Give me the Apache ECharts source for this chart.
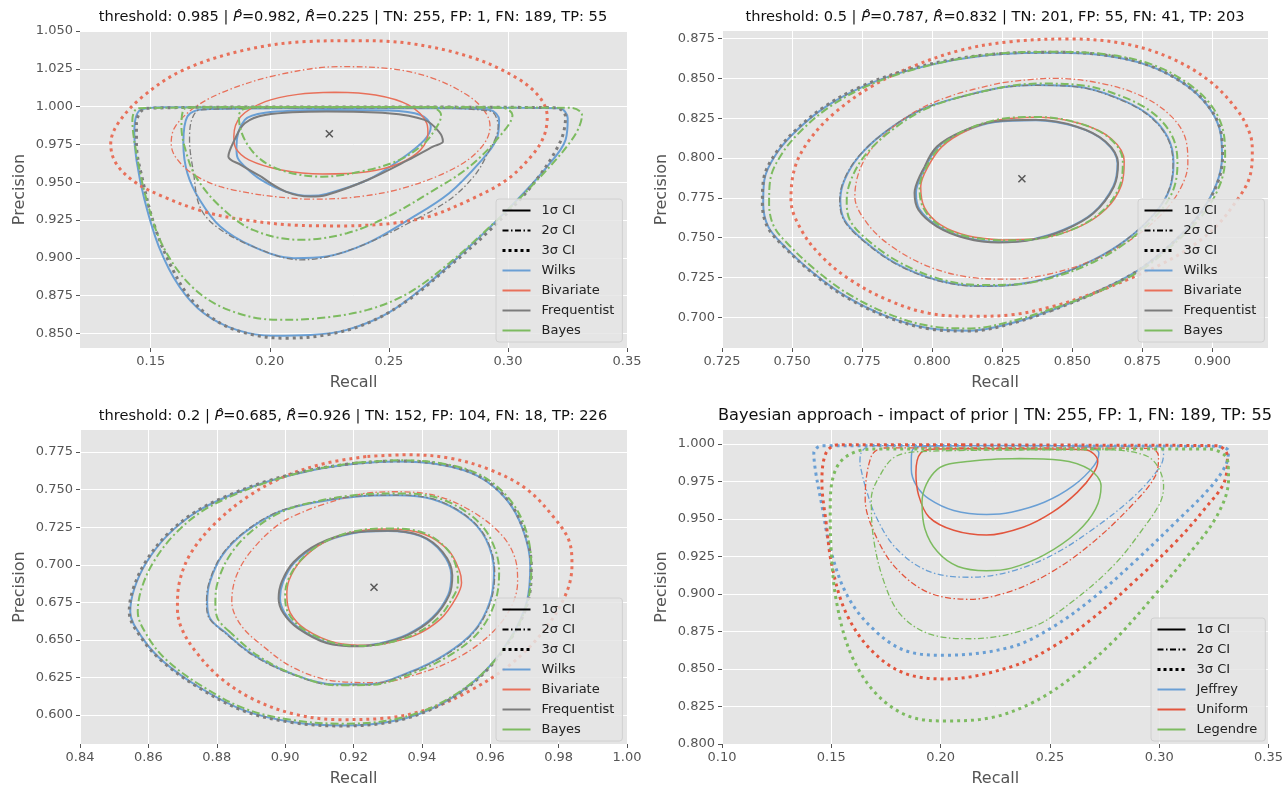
<!DOCTYPE html>
<html>
<head>
<meta charset="utf-8">
<script src="https://cdn.jsdelivr.net/npm/echarts@6/dist/echarts.min.js"></script>
<style>
  html, body { margin: 0; padding: 0; background: #fff; }
  #main { width: 1286px; height: 788px; }
</style>
</head>
<body>
<div id="main"></div>
<script>
// tick values of each panel
const p1XTicks = [0.15, 0.20, 0.25, 0.30, 0.35];
const p1YTicks = [0.850, 0.875, 0.900, 0.925, 0.950, 0.975, 1.000, 1.025, 1.050];
const p2XTicks = [0.725, 0.750, 0.775, 0.800, 0.825, 0.850, 0.875, 0.900];
const p2YTicks = [0.700, 0.725, 0.750, 0.775, 0.800, 0.825, 0.850, 0.875];
const p3XTicks = [0.84, 0.86, 0.88, 0.90, 0.92, 0.94, 0.96, 0.98, 1.00];
const p3YTicks = [0.600, 0.625, 0.650, 0.675, 0.700, 0.725, 0.750, 0.775];
const p4XTicks = [0.10, 0.15, 0.20, 0.25, 0.30, 0.35];
const p4YTicks = [0.800, 0.825, 0.850, 0.875, 0.900, 0.925, 0.950, 0.975, 1.000];

// ---- panel 1: threshold 0.985 ----
const p1Mark = [[0.225, 0.982]];
const p1Wilks1 = [[0.186,0.9736],[0.1895,0.9912],[0.198,0.996],[0.2238,0.9978],[0.2496,0.9974],[0.2633,0.9945],[0.2676,0.9868],[0.265,0.978],[0.2547,0.9648],[0.241,0.9515],[0.2238,0.9423],[0.217,0.941],[0.2067,0.9438],[0.1964,0.9515],[0.1895,0.9604],[0.1863,0.967],[0.186,0.9736]];
const p1Wilks2 = [[0.1637,0.9758],[0.1654,0.9934],[0.1723,0.9982],[0.2067,0.9989],[0.25,0.9989],[0.2753,0.9989],[0.2925,0.9978],[0.2963,0.9912],[0.2951,0.978],[0.2891,0.9648],[0.2753,0.9427],[0.2582,0.9251],[0.241,0.9097],[0.2238,0.9009],[0.2101,0.8998],[0.1929,0.9075],[0.1792,0.9207],[0.1706,0.9383],[0.1654,0.956],[0.1637,0.9758]];
const p1Wilks3 = [[0.1431,0.9824],[0.1457,0.9978],[0.1552,0.9996],[0.20,0.9995],[0.25,0.9994],[0.30,0.9992],[0.3217,0.9989],[0.3251,0.9923],[0.3242,0.978],[0.3165,0.9604],[0.3011,0.9339],[0.2839,0.9075],[0.2667,0.8833],[0.2496,0.8634],[0.2324,0.8524],[0.217,0.849],[0.2015,0.8485],[0.1861,0.8524],[0.1723,0.8634],[0.162,0.8811],[0.1534,0.9075],[0.1474,0.9383],[0.144,0.9648],[0.1431,0.9824]];
const p1Biv1 = [[0.1849,0.9802],[0.1878,0.9934],[0.1981,1.0033],[0.2118,1.0081],[0.2273,1.0095],[0.2444,1.0077],[0.2582,1.0011],[0.2659,0.989],[0.2664,0.9824],[0.2633,0.9714],[0.2547,0.9626],[0.241,0.957],[0.2221,0.9555],[0.2049,0.9581],[0.1912,0.9648],[0.1857,0.9725],[0.1849,0.9802]];
const p1Biv2 = [[0.1586,0.9758],[0.1603,0.9868],[0.1689,1.0],[0.1826,1.011],[0.2032,1.0209],[0.229,1.0264],[0.2496,1.0253],[0.2685,1.0187],[0.2839,1.0066],[0.2908,0.9956],[0.2925,0.9868],[0.2891,0.9736],[0.2788,0.9604],[0.2582,0.9471],[0.2376,0.9405],[0.217,0.9388],[0.1964,0.9416],[0.1792,0.9471],[0.1672,0.956],[0.1603,0.967],[0.1586,0.9758]];
const p1Biv3 = [[0.1332,0.9753],[0.1363,0.989],[0.1466,1.0066],[0.1637,1.0242],[0.1895,1.0374],[0.2152,1.043],[0.2358,1.0436],[0.2582,1.0419],[0.2839,1.033],[0.3028,1.0198],[0.3131,1.0066],[0.3165,0.9934],[0.315,0.98],[0.3097,0.967],[0.2994,0.9515],[0.2839,0.9383],[0.2667,0.9273],[0.2496,0.9225],[0.2324,0.9211],[0.2135,0.9214],[0.1895,0.9251],[0.1723,0.9306],[0.1552,0.9405],[0.1431,0.9504],[0.1354,0.9626],[0.1332,0.9753]];
const p1Freq1 = [[0.1826,0.967],[0.1852,0.978],[0.1895,0.989],[0.198,0.9945],[0.2238,0.9967],[0.2496,0.9956],[0.265,0.9912],[0.271,0.9835],[0.2727,0.9769],[0.2685,0.9736],[0.2582,0.9648],[0.241,0.9515],[0.2238,0.9416],[0.217,0.9405],[0.2067,0.9438],[0.1964,0.9537],[0.1878,0.9615],[0.1826,0.967]];
const p1Freq2 = [[0.1663,0.978],[0.1672,0.9912],[0.1706,0.9978],[0.21,0.9992],[0.26,0.9992],[0.2925,0.997],[0.2959,0.9868],[0.2908,0.967],[0.2856,0.9537],[0.2753,0.9383],[0.2582,0.9229],[0.241,0.9097],[0.225,0.901],[0.2127,0.8987],[0.1929,0.9075],[0.1775,0.9207],[0.1706,0.9339],[0.168,0.956],[0.1663,0.978]];
const p1Freq3 = [[0.144,0.989],[0.1483,0.9989],[0.20,0.9997],[0.26,0.9997],[0.32,0.9993],[0.3242,0.9934],[0.3217,0.9758],[0.3097,0.9471],[0.2925,0.9185],[0.2753,0.8943],[0.2582,0.8722],[0.241,0.8568],[0.2238,0.8491],[0.2067,0.8469],[0.1929,0.8491],[0.1792,0.8568],[0.1672,0.8722],[0.1586,0.8943],[0.1517,0.9207],[0.1466,0.9515],[0.144,0.9758],[0.144,0.989]];
const p1Bayes1 = [[0.187,0.9934],[0.1885,0.998],[0.196,0.9996],[0.23,0.9997],[0.265,0.9996],[0.2693,0.9989],[0.2719,0.9945],[0.271,0.989],[0.265,0.976],[0.2547,0.965],[0.241,0.958],[0.222,0.9537],[0.2067,0.957],[0.1964,0.9648],[0.1895,0.978],[0.187,0.9934]];
const p1Bayes2 = [[0.1629,0.9868],[0.1637,0.9978],[0.1672,0.9996],[0.20,0.9997],[0.25,0.9997],[0.2976,0.9992],[0.3019,0.9945],[0.2976,0.9824],[0.2839,0.9604],[0.2667,0.9427],[0.2496,0.9273],[0.2324,0.9163],[0.2127,0.9119],[0.1929,0.9185],[0.1792,0.9339],[0.1689,0.9537],[0.1646,0.9714],[0.1629,0.9868]];
const p1Bayes3 = [[0.1423,0.9912],[0.1449,0.9989],[0.20,0.9996],[0.26,0.9996],[0.3268,0.9992],[0.3311,0.9945],[0.3268,0.978],[0.3097,0.9471],[0.2925,0.9207],[0.2753,0.8965],[0.2582,0.8767],[0.241,0.8656],[0.22,0.86],[0.2032,0.859],[0.1826,0.8656],[0.1672,0.8811],[0.1552,0.9075],[0.1483,0.9383],[0.144,0.9692],[0.1423,0.9912]];

// ---- panel 2: threshold 0.5 ----
const p2Mark = [[0.832, 0.787]];
const p2Freq1 = [[0.7937,0.778],[0.7973,0.7946],[0.8017,0.8072],[0.8105,0.8166],[0.8223,0.8229],[0.837,0.824],[0.8516,0.8197],[0.8619,0.8103],[0.8663,0.7967],[0.8648,0.782],[0.8575,0.7653],[0.8472,0.7548],[0.8355,0.7486],[0.8237,0.7469],[0.812,0.7496],[0.8017,0.757],[0.7951,0.7674],[0.7937,0.778]];
const p2Wilks1 = [[0.7942,0.7782],[0.7977,0.7946],[0.8021,0.807],[0.8108,0.8164],[0.8225,0.8227],[0.837,0.8238],[0.8515,0.8196],[0.8617,0.8103],[0.8661,0.7968],[0.8646,0.7822],[0.8574,0.7655],[0.8471,0.7551],[0.8355,0.7489],[0.8238,0.7472],[0.8122,0.7499],[0.802,0.7573],[0.7955,0.7676],[0.7942,0.7782]];
const p2Biv1 = [[0.7959,0.7821],[0.7985,0.7946],[0.8035,0.8072],[0.812,0.817],[0.824,0.824],[0.838,0.8256],[0.853,0.8215],[0.864,0.812],[0.8685,0.798],[0.8675,0.783],[0.862,0.768],[0.852,0.7565],[0.838,0.7495],[0.825,0.7486],[0.813,0.751],[0.803,0.758],[0.7972,0.769],[0.7959,0.7821]];
const p2Bayes1 = [[0.7955,0.7815],[0.798,0.7946],[0.803,0.8075],[0.8115,0.8172],[0.8235,0.8242],[0.8375,0.8258],[0.8525,0.8218],[0.8635,0.8122],[0.868,0.7982],[0.867,0.783],[0.8615,0.768],[0.8515,0.7563],[0.8375,0.7492],[0.8245,0.7482],[0.8125,0.7507],[0.8025,0.7578],[0.7968,0.7688],[0.7955,0.7815]];
const p2Wilks2 = [[0.7672,0.7737],[0.7687,0.7862],[0.7738,0.8009],[0.7826,0.8155],[0.7958,0.8302],[0.8105,0.8386],[0.8252,0.8444],[0.837,0.8459],[0.8516,0.8449],[0.8648,0.8386],[0.8765,0.8281],[0.8839,0.8135],[0.8861,0.7967],[0.8846,0.78],[0.8794,0.7653],[0.8692,0.7486],[0.8575,0.736],[0.8428,0.7255],[0.8281,0.7203],[0.8164,0.7197],[0.8017,0.7234],[0.787,0.7339],[0.7753,0.7486],[0.7687,0.7611],[0.7672,0.7737]];
const p2Freq2 = [[0.767,0.7735],[0.7685,0.7862],[0.7736,0.8008],[0.7824,0.8153],[0.7956,0.83],[0.8103,0.8384],[0.825,0.8442],[0.8368,0.8457],[0.8514,0.8447],[0.8646,0.8384],[0.8763,0.8279],[0.8837,0.8133],[0.8859,0.7966],[0.8844,0.7799],[0.8792,0.7651],[0.869,0.7484],[0.8573,0.7358],[0.8426,0.7253],[0.8279,0.7201],[0.8162,0.7195],[0.8015,0.7232],[0.7868,0.7337],[0.7751,0.7484],[0.7685,0.7609],[0.767,0.7735]];
const p2Biv2 = [[0.7724,0.7758],[0.7746,0.7946],[0.7812,0.8114],[0.7929,0.8281],[0.8076,0.8396],[0.8252,0.8474],[0.8428,0.8501],[0.8604,0.8469],[0.8751,0.8386],[0.8854,0.826],[0.8905,0.8114],[0.8912,0.7967],[0.8883,0.78],[0.881,0.7632],[0.8707,0.7486],[0.8575,0.736],[0.8428,0.7276],[0.8281,0.7239],[0.8135,0.7251],[0.7988,0.7318],[0.7856,0.7444],[0.7768,0.759],[0.7724,0.7758]];
const p2Bayes2 = [[0.7695,0.7737],[0.771,0.7862],[0.7758,0.8012],[0.7845,0.816],[0.7975,0.8308],[0.812,0.8393],[0.8268,0.845],[0.8385,0.8468],[0.853,0.8458],[0.8665,0.8395],[0.8782,0.829],[0.8855,0.8142],[0.8875,0.797],[0.886,0.78],[0.8805,0.765],[0.87,0.748],[0.8585,0.7355],[0.8435,0.7252],[0.8285,0.7205],[0.8168,0.7203],[0.8025,0.7242],[0.788,0.7348],[0.7765,0.7492],[0.7705,0.7615],[0.7695,0.7737]];
const p2Wilks3 = [[0.7397,0.7716],[0.7401,0.7862],[0.7445,0.803],[0.7518,0.8176],[0.7621,0.8323],[0.7753,0.8449],[0.79,0.8543],[0.8076,0.8616],[0.8252,0.8654],[0.8428,0.8662],[0.8604,0.8647],[0.8765,0.8585],[0.8897,0.8469],[0.8985,0.8323],[0.9029,0.8155],[0.9034,0.8009],[0.9015,0.7841],[0.8956,0.7653],[0.8868,0.7486],[0.8736,0.7297],[0.8575,0.7151],[0.8428,0.7046],[0.8281,0.6962],[0.8135,0.6916],[0.7988,0.6931],[0.7841,0.7004],[0.7694,0.713],[0.7577,0.7276],[0.7474,0.7444],[0.7415,0.7569],[0.7397,0.7716]];
const p2Freq3 = [[0.7394,0.7716],[0.7398,0.7864],[0.7442,0.8032],[0.7515,0.8179],[0.7618,0.8326],[0.775,0.8452],[0.7897,0.8546],[0.8073,0.8619],[0.825,0.8657],[0.8426,0.8665],[0.8602,0.865],[0.8763,0.8588],[0.8896,0.8471],[0.8986,0.8325],[0.9031,0.8156],[0.9036,0.8009],[0.9017,0.784],[0.8957,0.7651],[0.8868,0.7483],[0.8735,0.7294],[0.8574,0.7148],[0.8427,0.7043],[0.828,0.6959],[0.8134,0.6913],[0.7987,0.6928],[0.784,0.7001],[0.7692,0.7127],[0.7575,0.7274],[0.7472,0.7442],[0.7412,0.7568],[0.7394,0.7716]];
const p2Biv3 = [[0.7496,0.7737],[0.7511,0.7946],[0.7562,0.8114],[0.765,0.8281],[0.7783,0.8449],[0.7929,0.8574],[0.8105,0.8679],[0.8281,0.8731],[0.8487,0.8748],[0.8677,0.8721],[0.8839,0.8637],[0.8985,0.849],[0.9088,0.8302],[0.9133,0.8155],[0.9142,0.8051],[0.9133,0.7883],[0.9088,0.7737],[0.9,0.7548],[0.8868,0.7381],[0.8721,0.7255],[0.8575,0.7151],[0.8428,0.7067],[0.8281,0.7015],[0.815,0.7006],[0.7988,0.7025],[0.7841,0.7109],[0.7709,0.7234],[0.7606,0.7381],[0.7533,0.7548],[0.7496,0.7737]];
const p2Bayes3 = [[0.7418,0.7716],[0.7422,0.7862],[0.7465,0.803],[0.7535,0.8176],[0.7635,0.8323],[0.7765,0.845],[0.7912,0.8545],[0.8088,0.862],[0.8262,0.866],[0.844,0.8667],[0.8618,0.8652],[0.878,0.859],[0.891,0.8472],[0.8998,0.8325],[0.904,0.8155],[0.9045,0.8009],[0.9028,0.784],[0.8968,0.765],[0.8875,0.748],[0.874,0.729],[0.8578,0.715],[0.843,0.7055],[0.8283,0.6975],[0.8138,0.693],[0.7992,0.6945],[0.7848,0.7018],[0.7705,0.7142],[0.7592,0.7285],[0.7492,0.7448],[0.7435,0.7572],[0.7418,0.7716]];

// ---- panel 3: threshold 0.2 ----
const p3Mark = [[0.926, 0.685]];
const p3Freq1 = [[0.8981,0.6776],[0.899,0.6886],[0.9025,0.7018],[0.9097,0.7139],[0.9193,0.7211],[0.93,0.7227],[0.9396,0.7194],[0.9461,0.7084],[0.9489,0.693],[0.948,0.6798],[0.9432,0.6644],[0.936,0.6534],[0.9277,0.6473],[0.9217,0.6457],[0.9121,0.6479],[0.9037,0.6578],[0.8995,0.6677],[0.8981,0.6776]];
const p3Wilks1 = [[0.8985,0.6778],[0.8994,0.6886],[0.9028,0.7016],[0.91,0.7136],[0.9195,0.7208],[0.93,0.7224],[0.9394,0.7192],[0.9458,0.7083],[0.9486,0.693],[0.9477,0.68],[0.943,0.6647],[0.9358,0.6537],[0.9276,0.6476],[0.9217,0.646],[0.9123,0.6482],[0.904,0.658],[0.8999,0.6679],[0.8985,0.6778]];
const p3Biv1 = [[0.9005,0.6798],[0.9012,0.69],[0.9045,0.7025],[0.911,0.7145],[0.92,0.7218],[0.93,0.7238],[0.9405,0.7205],[0.9478,0.7095],[0.951,0.696],[0.9516,0.688],[0.95,0.678],[0.9455,0.664],[0.938,0.653],[0.929,0.6475],[0.9241,0.6464],[0.915,0.648],[0.906,0.657],[0.9015,0.668],[0.9005,0.6798]];
const p3Bayes1 = [[0.9,0.679],[0.9008,0.6895],[0.9042,0.7022],[0.9108,0.7143],[0.92,0.7222],[0.9305,0.7242],[0.9408,0.721],[0.9475,0.71],[0.9503,0.6965],[0.9506,0.688],[0.949,0.678],[0.9445,0.664],[0.9372,0.653],[0.9285,0.6472],[0.9235,0.646],[0.9145,0.6478],[0.9055,0.6568],[0.901,0.6675],[0.9,0.679]];
const p3Wilks2 = [[0.8772,0.6754],[0.878,0.6886],[0.8816,0.7062],[0.8882,0.7216],[0.8978,0.7348],[0.9086,0.7414],[0.9205,0.7453],[0.9324,0.7462],[0.9432,0.7436],[0.9528,0.7326],[0.9587,0.7172],[0.9611,0.6952],[0.9599,0.6754],[0.9552,0.6556],[0.9468,0.6402],[0.936,0.6281],[0.9241,0.6204],[0.9145,0.6204],[0.9025,0.627],[0.8906,0.6402],[0.8822,0.6556],[0.878,0.6644],[0.8772,0.6754]];
const p3Freq2 = [[0.877,0.6752],[0.8778,0.6886],[0.8814,0.7063],[0.888,0.7218],[0.8976,0.735],[0.9085,0.7416],[0.9204,0.7455],[0.9324,0.7464],[0.9433,0.7438],[0.9529,0.7327],[0.9589,0.7172],[0.9613,0.6952],[0.9601,0.6752],[0.9553,0.6553],[0.9469,0.6399],[0.936,0.6278],[0.9241,0.6201],[0.9144,0.6201],[0.9023,0.6268],[0.8904,0.64],[0.882,0.6555],[0.8778,0.6643],[0.877,0.6752]];
const p3Biv2 = [[0.8844,0.6754],[0.8858,0.693],[0.8906,0.7106],[0.899,0.7282],[0.9098,0.7392],[0.9217,0.7469],[0.9324,0.7486],[0.9444,0.7458],[0.9552,0.7348],[0.9635,0.7194],[0.9673,0.704],[0.968,0.6886],[0.9659,0.671],[0.9599,0.6534],[0.9504,0.638],[0.9384,0.627],[0.9265,0.6215],[0.9145,0.6226],[0.9025,0.6314],[0.893,0.6468],[0.887,0.66],[0.8844,0.6754]];
const p3Bayes2 = [[0.8796,0.6754],[0.8803,0.6886],[0.8838,0.7062],[0.89,0.722],[0.8993,0.7355],[0.9098,0.7425],[0.9215,0.7466],[0.9332,0.7475],[0.9442,0.7448],[0.954,0.7335],[0.96,0.7178],[0.9626,0.6955],[0.9614,0.6752],[0.9566,0.6552],[0.948,0.6395],[0.937,0.6275],[0.925,0.62],[0.9152,0.6198],[0.9035,0.6262],[0.892,0.6395],[0.884,0.655],[0.8803,0.664],[0.8796,0.6754]];
const p3Wilks3 = [[0.8547,0.6688],[0.8559,0.6842],[0.8595,0.7018],[0.8655,0.7194],[0.8738,0.7348],[0.8834,0.7458],[0.8954,0.7557],[0.9086,0.7633],[0.9205,0.7673],[0.9324,0.7688],[0.9456,0.7666],[0.9564,0.759],[0.9647,0.7436],[0.9695,0.7238],[0.9717,0.6996],[0.9707,0.6754],[0.9659,0.6512],[0.9575,0.627],[0.9456,0.6073],[0.9324,0.5963],[0.9169,0.593],[0.9025,0.5952],[0.8882,0.6029],[0.875,0.6183],[0.8643,0.6358],[0.8583,0.6512],[0.8547,0.6688]];
const p3Freq3 = [[0.8544,0.6688],[0.8556,0.6843],[0.8592,0.702],[0.8652,0.7196],[0.8736,0.735],[0.8832,0.746],[0.8952,0.756],[0.9085,0.7636],[0.9204,0.7676],[0.9324,0.7691],[0.9457,0.7669],[0.9566,0.7592],[0.9649,0.7437],[0.9697,0.7238],[0.972,0.6996],[0.971,0.6752],[0.9661,0.6509],[0.9576,0.6267],[0.9456,0.607],[0.9323,0.596],[0.9168,0.5927],[0.9024,0.5949],[0.888,0.6026],[0.8748,0.6181],[0.8641,0.6356],[0.858,0.6511],[0.8544,0.6688]];
const p3Biv3 = [[0.8685,0.671],[0.8691,0.6886],[0.8726,0.7084],[0.8798,0.7282],[0.8894,0.7458],[0.9001,0.759],[0.9121,0.7677],[0.9241,0.7721],[0.936,0.7732],[0.948,0.771],[0.9599,0.7633],[0.9707,0.7502],[0.979,0.7304],[0.9832,0.715],[0.9839,0.6996],[0.982,0.6798],[0.9755,0.6556],[0.9659,0.6336],[0.954,0.6161],[0.942,0.604],[0.9289,0.5978],[0.9157,0.5969],[0.9025,0.6007],[0.8906,0.6106],[0.881,0.6248],[0.8738,0.6424],[0.8697,0.6578],[0.8685,0.671]];
const p3Bayes3 = [[0.8569,0.6688],[0.858,0.6842],[0.8615,0.7018],[0.8673,0.7194],[0.8753,0.735],[0.8848,0.7462],[0.8966,0.7563],[0.9096,0.764],[0.9214,0.768],[0.9333,0.7695],[0.9463,0.7673],[0.9572,0.7596],[0.9655,0.744],[0.9703,0.724],[0.972,0.6996],[0.9709,0.6752],[0.966,0.651],[0.9575,0.6272],[0.9455,0.608],[0.9322,0.5972],[0.9168,0.5942],[0.9025,0.5965],[0.8885,0.604],[0.8757,0.6192],[0.8655,0.6362],[0.86,0.6515],[0.8569,0.6688]];

// ---- panel 4: Bayesian priors ----
const p4Jef1 = [[0.1866,0.9897],[0.1872,0.9963],[0.192,0.9985],[0.22,0.999],[0.25,0.999],[0.268,0.998],[0.2724,0.9941],[0.27,0.9853],[0.2606,0.9721],[0.2474,0.9612],[0.2323,0.9546],[0.221,0.9531],[0.206,0.9557],[0.1947,0.9634],[0.189,0.9721],[0.1866,0.9831],[0.1866,0.9897]];
const p4Uni1 = [[0.1887,0.9809],[0.1909,0.9941],[0.1985,0.9967],[0.2323,0.9969],[0.2662,0.9963],[0.2719,0.9886],[0.27,0.9809],[0.2625,0.9678],[0.2512,0.9546],[0.238,0.9447],[0.221,0.9393],[0.206,0.9425],[0.1947,0.9513],[0.19,0.9656],[0.1887,0.9809]];
const p4Leg1 = [[0.1915,0.9612],[0.1985,0.9831],[0.2135,0.9886],[0.2361,0.9904],[0.2549,0.9893],[0.2681,0.9831],[0.2734,0.9721],[0.2709,0.9568],[0.2625,0.9414],[0.2474,0.9261],[0.2323,0.9173],[0.221,0.9156],[0.2079,0.9184],[0.1985,0.9283],[0.1928,0.9436],[0.1915,0.9612]];
const p4Jef2 = [[0.1631,0.9875],[0.1636,0.9941],[0.1683,0.9989],[0.22,0.999],[0.27,0.9986],[0.3001,0.998],[0.302,0.9941],[0.3005,0.9853],[0.2888,0.9656],[0.27,0.9436],[0.2512,0.9261],[0.2323,0.9151],[0.2135,0.9112],[0.1947,0.9151],[0.1796,0.9305],[0.1702,0.9524],[0.1655,0.9721],[0.1636,0.9831],[0.1631,0.9875]];
const p4Uni2 = [[0.1655,0.9634],[0.1683,0.9919],[0.174,0.9974],[0.23,0.9975],[0.2963,0.9971],[0.2997,0.9919],[0.2982,0.9787],[0.2888,0.9612],[0.27,0.9349],[0.2512,0.9151],[0.2323,0.902],[0.2135,0.8965],[0.1947,0.9009],[0.1796,0.9173],[0.1702,0.9393],[0.1655,0.9634]];
const p4Leg2 = [[0.1683,0.9634],[0.1721,0.9787],[0.1796,0.9919],[0.1947,0.9952],[0.23,0.996],[0.27,0.9963],[0.2945,0.9919],[0.302,0.9721],[0.3005,0.9612],[0.2926,0.9436],[0.2794,0.9195],[0.2606,0.8954],[0.2418,0.8779],[0.2135,0.8702],[0.1947,0.8735],[0.1815,0.8866],[0.174,0.9086],[0.1693,0.9371],[0.1683,0.9634]];
const p4Jef3 = [[0.142,0.9941],[0.1457,0.9989],[0.20,0.999],[0.26,0.9988],[0.3265,0.9985],[0.3317,0.9952],[0.3302,0.9853],[0.3227,0.97],[0.3076,0.948],[0.2888,0.9217],[0.27,0.8976],[0.2512,0.8779],[0.2323,0.8647],[0.2022,0.8592],[0.1834,0.8625],[0.1683,0.8779],[0.157,0.8998],[0.1495,0.9305],[0.1457,0.959],[0.1429,0.9809],[0.142,0.9941]];
const p4Uni3 = [[0.1457,0.9743],[0.1476,0.9941],[0.1533,0.9996],[0.21,0.9995],[0.27,0.9993],[0.3265,0.9989],[0.3312,0.9919],[0.3302,0.9765],[0.3208,0.9568],[0.3076,0.9349],[0.2888,0.9086],[0.27,0.8844],[0.2512,0.8647],[0.2323,0.8515],[0.2022,0.8434],[0.1834,0.8472],[0.1683,0.8625],[0.157,0.8866],[0.1505,0.9173],[0.1476,0.948],[0.1457,0.9743]];
const p4Leg3 = [[0.1495,0.959],[0.1514,0.9809],[0.157,0.9919],[0.1683,0.9967],[0.24,0.9968],[0.3227,0.9967],[0.3312,0.9897],[0.3317,0.9765],[0.3265,0.9524],[0.3133,0.9261],[0.2982,0.8998],[0.2794,0.8691],[0.2606,0.845],[0.2418,0.8274],[0.2229,0.8175],[0.2022,0.8154],[0.1853,0.8186],[0.1702,0.834],[0.1589,0.8603],[0.1523,0.8954],[0.1499,0.9305],[0.1495,0.959]];

const FONT = 'DejaVu Sans';
const BLUE = '#6a9fd4', RED = '#e8705a', GRAY = '#7c7c7c', GREEN = '#7dbb60';
const RED4 = '#e2553d';

// pixel size of one data unit per panel (used only to pick where a closed loop starts)
const pxScale = [[2378, 1513], [2800, 1592], [3419, 1516], [2188, 1520]];

const styles = {
    solid:   { type: 'solid', width: 2 },
    solidT:  { type: 'solid', width: 1.5 },
    dashdot: { type: [8, 3, 2, 3], width: 2 },
    dashdotT:{ type: [6, 2.5, 1.5, 2.5], width: 1.3 },
    dotted:  { type: [3, 4], width: 3, cap: 'butt' }
};

// start a closed loop at its straightest vertex so the smoothed seam is hidden
function reseam(pts, g) {
    const n = pts.length - 1;
    const sx = pxScale[g][0], sy = pxScale[g][1];
    let best = 0, bestTurn = Infinity;
    for (let i = 0; i < n; i++) {
        const a = pts[(i - 1 + n) % n], b = pts[i], c = pts[(i + 1) % n];
        const a1 = Math.atan2((b[1] - a[1]) * sy, (b[0] - a[0]) * sx);
        const a2 = Math.atan2((c[1] - b[1]) * sy, (c[0] - b[0]) * sx);
        let t = Math.abs(a2 - a1);
        if (t > Math.PI) t = 2 * Math.PI - t;
        if (t < bestTurn) { bestTurn = t; best = i; }
    }
    const ring = pts.slice(0, n);
    const out = ring.slice(best).concat(ring.slice(0, best));
    out.push(out[0]);
    return out;
}

function ci(name, g, data, color, st) {
    return {
        name: name, type: 'line', xAxisIndex: g, yAxisIndex: g,
        data: reseam(data, g), symbol: 'none', smooth: 0.35, silent: true,
        color: color,
        lineStyle: Object.assign({ color: color }, styles[st])
    };
}
function mark(g, data) {
    return {
        type: 'scatter', xAxisIndex: g, yAxisIndex: g, data: data, silent: true,
        symbol: 'path://M0,0L10,10M10,0L0,10', symbolSize: 7,
        itemStyle: { color: 'rgba(0,0,0,0)', borderColor: '#333', borderWidth: 1.5 }
    };
}

function axis(g, min, max, step, ticks, dec, name, dir) {
    return {
        type: 'value', gridIndex: g, min: min, max: max,
        minInterval: step, maxInterval: step,
        name: name, nameLocation: 'middle',
        nameGap: dir === 'x' ? 27 : 52,
        nameTextStyle: { fontFamily: FONT, fontSize: 16, color: '#555' },
        axisLine: { show: false },
        axisTick: { show: true, length: 4, customValues: ticks, lineStyle: { color: '#555' } },
        axisLabel: {
            fontFamily: FONT, fontSize: 13, color: '#555', margin: 7,
            customValues: ticks,
            formatter: function (v) {
                const k = v / step;
                if (Math.abs(k - Math.round(k)) > 1e-6) return '';
                return v.toFixed(dec);
            }
        },
        splitLine: { show: true, lineStyle: { color: '#fff', width: 1 } }
    };
}

const legendBase = {
    orient: 'vertical', itemWidth: 28, itemHeight: 14, itemGap: 7,
    backgroundColor: 'rgba(229,229,229,0.85)', borderColor: '#d0d0d0', borderWidth: 1, borderRadius: 3,
    padding: [5, 8, 5, 5],
    itemStyle: { opacity: 0 },
    textStyle: { fontFamily: FONT, fontSize: 13, color: '#222', padding: [0, 0, 0, 6] },
    selectedMode: false
};
const ciLegend = [
    { name: '1σ CI', lineStyle: { color: '#000', type: 'solid', width: 2 } },
    { name: '2σ CI', lineStyle: { color: '#000', type: [6, 2.5, 1.5, 2.5], width: 2 } },
    { name: '3σ CI', lineStyle: { color: '#000', type: [3, 3], width: 3 } }
];
function methodLegend(names) {
    return names.map(function (n) { return { name: n[0], lineStyle: { color: n[1], type: 'solid', width: 2 } }; });
}
const methods = [['Wilks', BLUE], ['Bivariate', RED], ['Frequentist', GRAY], ['Bayes', GREEN]];
const priors = [['Jeffrey', BLUE], ['Uniform', RED4], ['Legendre', GREEN]];

function titleStyle(size) {
    return {
        fontFamily: FONT, fontSize: size, fontWeight: 'normal', color: '#111',
        rich: { i: { fontFamily: FONT, fontSize: size, fontStyle: 'italic', color: '#111' } }
    };
}

const series = [
    // dummy series for the line-style legend entries
    { name: '1σ CI', type: 'line', data: [], symbol: 'none', color: '#000', lineStyle: { color: '#000', type: 'solid', width: 2 } },
    { name: '2σ CI', type: 'line', data: [], symbol: 'none', color: '#000', lineStyle: { color: '#000', type: [6, 2.5, 1.5, 2.5], width: 2 } },
    { name: '3σ CI', type: 'line', data: [], symbol: 'none', color: '#000', lineStyle: { color: '#000', type: [3, 3], width: 3 } },

    ci('Wilks', 0, p1Wilks1, BLUE, 'solid'),
    ci('Wilks', 0, p1Wilks2, BLUE, 'solid'),
    ci('Wilks', 0, p1Wilks3, BLUE, 'solid'),
    ci('Bivariate', 0, p1Biv1, RED, 'solidT'),
    ci('Bivariate', 0, p1Biv2, RED, 'dashdotT'),
    ci('Bivariate', 0, p1Biv3, RED, 'dotted'),
    ci('Frequentist', 0, p1Freq1, GRAY, 'solid'),
    ci('Frequentist', 0, p1Freq2, GRAY, 'dashdotT'),
    ci('Frequentist', 0, p1Freq3, GRAY, 'dotted'),
    ci('Bayes', 0, p1Bayes1, GREEN, 'dashdot'),
    ci('Bayes', 0, p1Bayes2, GREEN, 'dashdot'),
    ci('Bayes', 0, p1Bayes3, GREEN, 'dashdot'),
    mark(0, p1Mark),

    ci('Wilks', 1, p2Wilks1, BLUE, 'solid'),
    ci('Wilks', 1, p2Wilks2, BLUE, 'solid'),
    ci('Wilks', 1, p2Wilks3, BLUE, 'solid'),
    ci('Bivariate', 1, p2Biv1, RED, 'solidT'),
    ci('Bivariate', 1, p2Biv2, RED, 'dashdotT'),
    ci('Bivariate', 1, p2Biv3, RED, 'dotted'),
    ci('Frequentist', 1, p2Freq1, GRAY, 'solid'),
    ci('Frequentist', 1, p2Freq2, GRAY, 'dashdotT'),
    ci('Frequentist', 1, p2Freq3, GRAY, 'dotted'),
    ci('Bayes', 1, p2Bayes1, GREEN, 'dashdot'),
    ci('Bayes', 1, p2Bayes2, GREEN, 'dashdot'),
    ci('Bayes', 1, p2Bayes3, GREEN, 'dashdot'),
    mark(1, p2Mark),

    ci('Wilks', 2, p3Wilks1, BLUE, 'solid'),
    ci('Wilks', 2, p3Wilks2, BLUE, 'solid'),
    ci('Wilks', 2, p3Wilks3, BLUE, 'solid'),
    ci('Bivariate', 2, p3Biv1, RED, 'solidT'),
    ci('Bivariate', 2, p3Biv2, RED, 'dashdotT'),
    ci('Bivariate', 2, p3Biv3, RED, 'dotted'),
    ci('Frequentist', 2, p3Freq1, GRAY, 'solid'),
    ci('Frequentist', 2, p3Freq2, GRAY, 'dashdotT'),
    ci('Frequentist', 2, p3Freq3, GRAY, 'dotted'),
    ci('Bayes', 2, p3Bayes1, GREEN, 'dashdot'),
    ci('Bayes', 2, p3Bayes2, GREEN, 'dashdot'),
    ci('Bayes', 2, p3Bayes3, GREEN, 'dashdot'),
    mark(2, p3Mark),

    ci('Jeffrey', 3, p4Jef1, BLUE, 'solidT'),
    ci('Jeffrey', 3, p4Jef2, BLUE, 'dashdotT'),
    ci('Jeffrey', 3, p4Jef3, BLUE, 'dotted'),
    ci('Uniform', 3, p4Uni1, RED4, 'solidT'),
    ci('Uniform', 3, p4Uni2, RED4, 'dashdotT'),
    ci('Uniform', 3, p4Uni3, RED4, 'dotted'),
    ci('Legendre', 3, p4Leg1, GREEN, 'solidT'),
    ci('Legendre', 3, p4Leg2, GREEN, 'dashdotT'),
    ci('Legendre', 3, p4Leg3, GREEN, 'dotted')
];

const chart = echarts.init(document.getElementById('main'), null, { renderer: 'canvas' });
chart.setOption({
    animation: false,
    backgroundColor: '#fff',
    textStyle: { fontFamily: FONT },
    title: [
        { text: 'threshold: 0.985 | {i|P\u0302}=0.982, {i|R\u0302}=0.225 | TN: 255, FP: 1, FN: 189, TP: 55', left: 353, top: 10, textAlign: 'center', padding: 0, textStyle: titleStyle(14.6) },
        { text: 'threshold: 0.5 | {i|P\u0302}=0.787, {i|R\u0302}=0.832 | TN: 201, FP: 55, FN: 41, TP: 203', left: 995, top: 10, textAlign: 'center', padding: 0, textStyle: titleStyle(14.6) },
        { text: 'threshold: 0.2 | {i|P\u0302}=0.685, {i|R\u0302}=0.926 | TN: 152, FP: 104, FN: 18, TP: 226', left: 353, top: 409, textAlign: 'center', padding: 0, textStyle: titleStyle(14.6) },
        { text: 'Bayesian approach - impact of prior | TN: 255, FP: 1, FN: 189, TP: 55', left: 995, top: 408, textAlign: 'center', padding: 0, textStyle: titleStyle(16.2) }
    ],
    grid: [
        { left: 80, top: 31, width: 547, height: 317, show: true, backgroundColor: '#e5e5e5', borderWidth: 0 },
        { left: 722, top: 31, width: 546, height: 317, show: true, backgroundColor: '#e5e5e5', borderWidth: 0 },
        { left: 80, top: 430, width: 547, height: 317, show: true, backgroundColor: '#e5e5e5', borderWidth: 0 },
        { left: 722, top: 430, width: 547, height: 318, show: true, backgroundColor: '#e5e5e5', borderWidth: 0 }
    ],
    xAxis: [
        axis(0, 0.1203, 0.35, 0.05, p1XTicks, 2, 'Recall', 'x'),
        axis(1, 0.725, 0.9198, 0.025, p2XTicks, 3, 'Recall', 'x'),
        axis(2, 0.84, 1.0, 0.02, p3XTicks, 2, 'Recall', 'x'),
        axis(3, 0.10, 0.35, 0.05, p4XTicks, 2, 'Recall', 'x')
    ],
    yAxis: [
        axis(0, 0.8404, 1.05, 0.025, p1YTicks, 3, 'Precision', 'y'),
        axis(1, 0.6807, 0.8798, 0.025, p2YTicks, 3, 'Precision', 'y'),
        axis(2, 0.5807, 0.7897, 0.025, p3YTicks, 3, 'Precision', 'y'),
        axis(3, 0.80, 1.0094, 0.025, p4YTicks, 3, 'Precision', 'y')
    ],
    legend: [
        Object.assign({}, legendBase, { left: 496, top: 199, data: ciLegend.concat(methodLegend(methods)) }),
        Object.assign({}, legendBase, { left: 1138, top: 199, data: ciLegend.concat(methodLegend(methods)) }),
        Object.assign({}, legendBase, { left: 496, top: 598, data: ciLegend.concat(methodLegend(methods)) }),
        Object.assign({}, legendBase, { left: 1151, top: 618, data: ciLegend.concat(methodLegend(priors)) })
    ],
    series: series
});
</script>
</body>
</html>
